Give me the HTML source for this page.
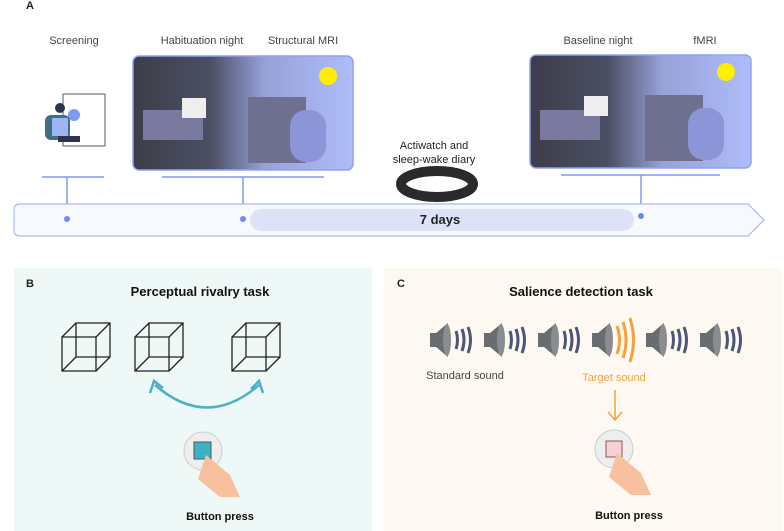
<html><body style="margin:0;width:784px;height:531px;background:#fff;position:relative;overflow:hidden;font-family:'Liberation Sans',sans-serif">
<svg width="784" height="531" style="position:absolute;left:0;top:0" font-family="Liberation Sans, sans-serif">
<defs>
<linearGradient id="g" x1="0" x2="1"><stop offset="0" stop-color="#3c3d48"/><stop offset="0.35" stop-color="#4a4f63"/><stop offset="0.6" stop-color="#98a2d8"/><stop offset="1" stop-color="#aebcfa"/></linearGradient>
</defs>
<text x="26" y="9" font-size="11" font-weight="bold" fill="#222">A</text>
<text x="74" y="44" font-size="11" fill="#444" text-anchor="middle">Screening</text>
<text x="202" y="44" font-size="11" fill="#444" text-anchor="middle">Habituation night</text>
<text x="303" y="44" font-size="11" fill="#444" text-anchor="middle">Structural MRI</text>
<text x="598" y="44" font-size="11" fill="#444" text-anchor="middle">Baseline night</text>
<text x="705" y="44" font-size="11" fill="#444" text-anchor="middle">fMRI</text>
<text x="434" y="149" font-size="11" fill="#222" text-anchor="middle">Actiwatch and</text>
<text x="434" y="163" font-size="11" fill="#222" text-anchor="middle">sleep-wake diary</text>
<rect x="133" y="56" width="220" height="114" rx="6" fill="url(#g)" stroke="#8ea2f5" stroke-width="1.5"/>
<rect x="530" y="55" width="221" height="113" rx="6" fill="url(#g)" stroke="#8ea2f5" stroke-width="1.5"/>
<circle cx="328" cy="76" r="9" fill="#ffee00"/><circle cx="726" cy="72" r="9" fill="#ffee00"/>
<rect x="248" y="97" width="58" height="66" fill="#6f6f8f"/><rect x="290" y="110" width="36" height="52" rx="16" fill="#8c95d8"/>
<rect x="645" y="95" width="58" height="66" fill="#6f6f8f"/><rect x="688" y="108" width="36" height="52" rx="16" fill="#8c95d8"/>
<rect x="143" y="110" width="60" height="30" fill="#7a7aa0"/><rect x="540" y="110" width="60" height="30" fill="#7a7aa0"/>
<rect x="182" y="98" width="24" height="20" fill="#eee"/><rect x="584" y="96" width="24" height="20" fill="#eee"/>
<rect x="63" y="94" width="42" height="52" fill="#fff" stroke="#556" stroke-width="1"/>
<circle cx="74" cy="115" r="6" fill="#7b9cf0"/>
<rect x="45" y="115" width="25" height="25" rx="6" fill="#3f6f86"/><circle cx="60" cy="108" r="5" fill="#2e3450"/>
<rect x="52" y="118" width="16" height="18" fill="#9db4f2"/>
<rect x="58" y="136" width="22" height="6" fill="#2e3450"/>
<ellipse cx="437" cy="184" rx="36" ry="13" fill="none" stroke="#2a2a2a" stroke-width="10"/>
<g stroke="#7a9bf5" stroke-width="1.5">
<line x1="42" y1="177" x2="104" y2="177"/><line x1="162" y1="177" x2="324" y2="177"/><line x1="561" y1="175" x2="720" y2="175"/>
<line x1="67" y1="177" x2="67" y2="219"/><line x1="243" y1="177" x2="243" y2="219"/><line x1="641" y1="175" x2="641" y2="216"/>
</g>
<path d="M20 204 H748 L764 220 L748 236 H20 Q14 236 14 230 V210 Q14 204 20 204 Z" fill="#f8f9fe" stroke="#a9b9f5" stroke-width="1.2"/>
<rect x="250" y="209" width="384" height="22" rx="11" fill="#dde3f7"/>
<text x="440" y="224" font-size="13" font-weight="bold" fill="#222" text-anchor="middle">7 days</text>
<g fill="#6a8cf0"><circle cx="67" cy="219" r="3"/><circle cx="243" cy="219" r="3"/><circle cx="641" cy="216" r="3"/></g>
<rect x="14" y="268" width="358" height="263" fill="#eef8f6"/>
<rect x="384" y="268" width="398" height="263" fill="#fdf9f2"/>
<text x="26" y="287" font-size="11" font-weight="bold" fill="#222">B</text>
<text x="200" y="296" font-size="13" font-weight="bold" fill="#111" text-anchor="middle">Perceptual rivalry task</text>
<text x="397" y="287" font-size="11" font-weight="bold" fill="#222">C</text>
<text x="581" y="296" font-size="13" font-weight="bold" fill="#111" text-anchor="middle">Salience detection task</text>
<g fill="none" stroke="#222" stroke-width="1.3">
<path d="M62 337 h34 v34 h-34 z M76 323 h34 v34 h-34 z M62 337 l14-14 M96 337 l14-14 M96 371 l14-14 M62 371 l14-14"/>
<path d="M135 337 h34 v34 h-34 z M149 323 h34 v34 h-34 z M135 337 l14-14 M169 337 l14-14 M169 371 l14-14 M135 371 l14-14"/>
<path d="M246 323 h34 v34 h-34 z M232 337 h34 v34 h-34 z M232 337 l14-14 M266 337 l14-14 M266 371 l14-14 M232 371 l14-14"/>
</g>
<path d="M155 385 Q207 430 259 385" fill="none" stroke="#4cb0c6" stroke-width="2.5"/>
<path d="M150 393 L154 381 L163 388 M263 393 L259 381 L251 389" fill="none" stroke="#4cb0c6" stroke-width="2.5"/>
<circle cx="203" cy="451" r="19" fill="#eee" stroke="#ccc"/><rect x="194" y="442" width="17" height="17" fill="#3ab3c4" stroke="#555"/>
<path d="M206 455 l24 20 l10 22 l-20 0 l-22 -18 z" fill="#f7c19f"/>
<text x="220" y="520" font-size="11" font-weight="bold" fill="#111" text-anchor="middle">Button press</text>
<g>
<g id="sp"><path d="M430 333 h6 l12 -10 v34 l-12 -10 h-6 z" fill="#6a6d70"/><ellipse cx="447" cy="340" rx="4" ry="16" fill="#8a8d90"/><path d="M456 331 q3 9 0 18 M462 329 q4 11 0 22 M468 327 q5 13 0 26" fill="none" stroke="#4e5678" stroke-width="3"/></g>
<use href="#sp" x="54"/><use href="#sp" x="108"/><use href="#sp" x="216"/><use href="#sp" x="270"/>
<path d="M592 333 h6 l12 -10 v34 l-12 -10 h-6 z" fill="#6a6d70"/><ellipse cx="609" cy="340" rx="4" ry="16" fill="#8a8d90"/>
<path d="M617 326 q5 14 0 28 M623 322 q6 18 0 36 M630 318 q7 22 0 44" fill="none" stroke="#f6a13c" stroke-width="3"/>
</g>
<text x="465" y="379" font-size="11" fill="#444" text-anchor="middle">Standard sound</text>
<text x="614" y="381" font-size="11" fill="#f6a13c" text-anchor="middle">Target sound</text>
<path d="M615 390 V419 M608 412 L615 420 L622 412" fill="none" stroke="#f6a13c" stroke-width="1.5"/>
<circle cx="614" cy="449" r="19" fill="#eee" stroke="#ccc"/><rect x="606" y="441" width="16" height="16" fill="#f6d0d8" stroke="#8a5a4a"/>
<path d="M617 453 l24 20 l10 22 l-20 0 l-22 -18 z" fill="#f7c19f"/>
<text x="629" y="519" font-size="11" font-weight="bold" fill="#111" text-anchor="middle">Button press</text>
</svg>
</body></html>
